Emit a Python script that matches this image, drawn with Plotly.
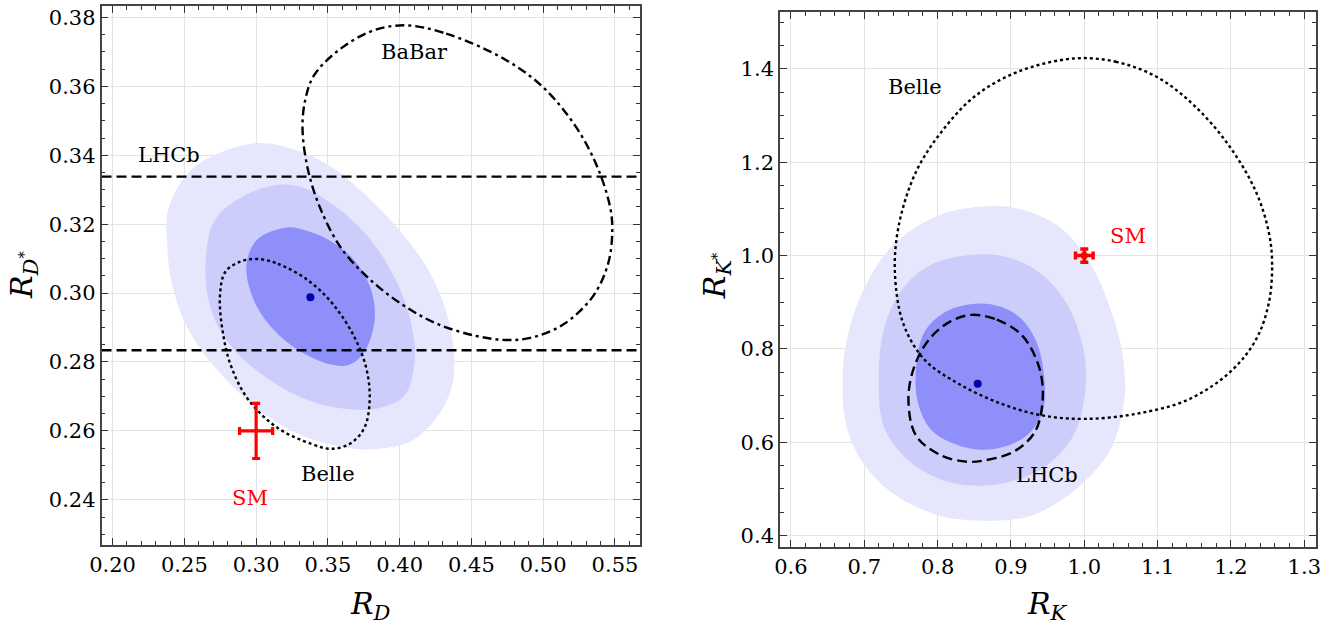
import plotly.graph_objects as go

# ---------------- Left panel: R_D vs R_D* ----------------
rd_outer_x = [0.2978, 0.2567, 0.2391, 0.2382, 0.2420, 0.2537, 0.2742, 0.3006, 0.3328, 0.3650, 0.3856,
              0.4090, 0.4266, 0.4368, 0.4377, 0.4325, 0.4207, 0.4031, 0.3797, 0.3533, 0.3270, 0.2978]
rd_outer_y = [0.3434, 0.3364, 0.3248, 0.3131, 0.3015, 0.2887, 0.2771, 0.2666, 0.2585, 0.2550, 0.2548,
              0.2573, 0.2643, 0.2736, 0.2829, 0.2945, 0.3062, 0.3166, 0.3271, 0.3364, 0.3416, 0.3434]

rd_mid_x = [0.3152, 0.2918, 0.2713, 0.2654, 0.2654, 0.2713, 0.2860, 0.3094, 0.3358, 0.3621, 0.3856,
            0.4031, 0.4105, 0.4075, 0.3973, 0.3797, 0.3563, 0.3328, 0.3152]
rd_mid_y = [0.3314, 0.3283, 0.3213, 0.3120, 0.3015, 0.2922, 0.2829, 0.2748, 0.2690, 0.2664, 0.2666,
            0.2701, 0.2806, 0.2922, 0.3038, 0.3155, 0.3248, 0.3306, 0.3314]

rd_in_x = [0.3211, 0.3006, 0.2933, 0.2962, 0.3064, 0.3269, 0.3504, 0.3650, 0.3753, 0.3826, 0.3797,
           0.3680, 0.3504, 0.3328, 0.3211]
rd_in_y = [0.3190, 0.3155, 0.3085, 0.3003, 0.2922, 0.2841, 0.2794, 0.2792, 0.2829, 0.2922, 0.3015,
           0.3097, 0.3155, 0.3184, 0.3190]

rd_best = (0.3378, 0.2988)

babar_x = [0.4031, 0.4324, 0.4734, 0.5000, 0.5232, 0.5379, 0.5467, 0.5481, 0.5452, 0.5349, 0.5144,
           0.4910, 0.4734, 0.4529, 0.4266, 0.4031, 0.3797, 0.3592, 0.3445, 0.3358, 0.3323, 0.3343,
           0.3402, 0.3563, 0.3797, 0.4031]
babar_y = [0.3777, 0.3753, 0.3678, 0.3597, 0.3480, 0.3364, 0.3248, 0.3178, 0.3085, 0.2992, 0.2910,
           0.2870, 0.2864, 0.2876, 0.2910, 0.2963, 0.3038, 0.3131, 0.3248, 0.3364, 0.3480, 0.3562,
           0.3631, 0.3701, 0.3759, 0.3777]

belle_d_x = [0.3006, 0.3152, 0.3358, 0.3533, 0.3680, 0.3767, 0.3791, 0.3753, 0.3650, 0.3519, 0.3387,
             0.3152, 0.2947, 0.2830, 0.2772, 0.2748, 0.2786, 0.2889, 0.3006]
belle_d_y = [0.3099, 0.3085, 0.3038, 0.2969, 0.2876, 0.2783, 0.2690, 0.2608, 0.2562, 0.2548, 0.2562,
             0.2608, 0.2690, 0.2783, 0.2876, 0.2992, 0.3062, 0.3091, 0.3099]

lhcb_d_band = [0.2834, 0.3338]

sm_d = (0.300, 0.260)
sm_d_err = (0.0115, 0.008)

# ---------------- Right panel: R_K vs R_K* ----------------
rk_outer_x = [0.8517, 0.7938, 0.7359, 0.6953, 0.6750, 0.6704, 0.6750, 0.6953, 0.7359, 0.7938, 0.8517,
              0.9271, 0.9908, 1.0371, 1.0545, 1.0556, 1.0516, 1.0371, 1.0081, 0.9676, 0.9097, 0.8517]
rk_outer_y = [1.1044, 1.0812, 1.0170, 0.9141, 0.8113, 0.7256, 0.6399, 0.5628, 0.4943, 0.4471, 0.4326,
              0.4428, 0.5028, 0.5885, 0.6913, 0.7256, 0.7942, 0.8799, 0.9829, 1.0598, 1.1009, 1.1044]

rk_mid_x = [0.8517, 0.7938, 0.7532, 0.7272, 0.7196, 0.7272, 0.7591, 0.8054, 0.8517, 0.8981, 0.9444,
            0.9850, 1.0012, 0.9994, 0.9791, 0.9444, 0.8981, 0.8517]
rk_mid_y = [1.0024, 0.9827, 0.9313, 0.8456, 0.7256, 0.6314, 0.5628, 0.5200, 0.5071, 0.5157, 0.5457,
            0.6142, 0.7085, 0.7942, 0.8884, 0.9570, 0.9955, 1.0024]

rk_in_x = [0.8517, 0.8111, 0.7822, 0.7706, 0.7735, 0.7938, 0.8401, 0.8807, 0.9212, 0.9432, 0.9456,
           0.9357, 0.9154, 0.8865, 0.8517]
rk_in_y = [0.8970, 0.8799, 0.8370, 0.7599, 0.6828, 0.6228, 0.5885, 0.5868, 0.6142, 0.6656, 0.7342,
           0.8113, 0.8627, 0.8902, 0.8970]

rk_best = (0.8546, 0.7256)

lhcb_k_x = [0.8459, 0.8807, 0.9154, 0.9386, 0.9432, 0.9328, 0.9038, 0.8633, 0.8401, 0.8054, 0.7706,
            0.7602, 0.7677, 0.7880, 0.8169, 0.8459]
lhcb_k_y = [0.8730, 0.8627, 0.8285, 0.7599, 0.6913, 0.6228, 0.5799, 0.5611, 0.5585, 0.5714, 0.6142,
            0.6913, 0.7599, 0.8199, 0.8585, 0.8730]

belle_k_x = [0.9850, 1.0429, 1.1008, 1.1529, 1.1993, 1.2340, 1.2514, 1.2561, 1.2514, 1.2340, 1.1993,
             1.1414, 1.0719, 1.0023, 0.9444, 0.8865, 0.8285, 0.7822, 0.7532, 0.7417, 0.7475, 0.7706,
             0.8054, 0.8517, 0.9097, 0.9850]
belle_k_y = [1.4223, 1.4154, 1.3811, 1.3169, 1.2312, 1.1369, 1.0512, 0.9827, 0.8970, 0.8199, 0.7513,
             0.6913, 0.6614, 0.6502, 0.6571, 0.6828, 0.7256, 0.7770, 0.8542, 0.9656, 1.0684, 1.1798,
             1.2655, 1.3426, 1.3940, 1.4223]

sm_k = (1.000, 1.000)
sm_k_err = (0.012, 0.014)

# ---------------- styling ----------------
C_OUT = "#E6E6FC"
C_MID = "#CDCDFB"
C_IN = "#8F8FFA"
C_BEST = "#0000A8"
FONT = "DejaVu Serif"

fig = go.Figure()


def region(x, y, color, xa, ya):
    fig.add_trace(go.Scatter(x=x, y=y, mode="lines", fill="toself", fillcolor=color,
                             line=dict(color=color, width=0, shape="spline", smoothing=1.0),
                             xaxis=xa, yaxis=ya, hoverinfo="skip", showlegend=False))


def curve(x, y, dash, xa, ya):
    fig.add_trace(go.Scatter(x=x, y=y, mode="lines",
                             line=dict(color="black", width=2.4, dash=dash, shape="spline", smoothing=1.0),
                             xaxis=xa, yaxis=ya, hoverinfo="skip", showlegend=False))


# left
region(rd_outer_x, rd_outer_y, C_OUT, "x", "y")
region(rd_mid_x, rd_mid_y, C_MID, "x", "y")
region(rd_in_x, rd_in_y, C_IN, "x", "y")
curve(babar_x, babar_y, "9px,4px,3px,4px", "x", "y")
curve(belle_d_x, belle_d_y, "3px,3px", "x", "y")
for yv in lhcb_d_band:
    fig.add_trace(go.Scatter(x=[0.1923, 0.5674], y=[yv, yv], mode="lines",
                             line=dict(color="black", width=2.4, dash="10px,5px"),
                             xaxis="x", yaxis="y", hoverinfo="skip", showlegend=False))
fig.add_trace(go.Scatter(x=[rd_best[0]], y=[rd_best[1]], mode="markers",
                         marker=dict(color=C_BEST, size=8), xaxis="x", yaxis="y", showlegend=False))
fig.add_trace(go.Scatter(x=[sm_d[0]], y=[sm_d[1]], mode="markers",
                         marker=dict(color="red", size=4),
                         error_x=dict(type="constant", value=sm_d_err[0], color="red", thickness=3.2, width=4),
                         error_y=dict(type="constant", value=sm_d_err[1], color="red", thickness=3.2, width=4),
                         xaxis="x", yaxis="y", showlegend=False))

# right
region(rk_outer_x, rk_outer_y, C_OUT, "x2", "y2")
region(rk_mid_x, rk_mid_y, C_MID, "x2", "y2")
region(rk_in_x, rk_in_y, C_IN, "x2", "y2")
curve(lhcb_k_x, lhcb_k_y, "10px,5px", "x2", "y2")
curve(belle_k_x, belle_k_y, "3px,3px", "x2", "y2")
fig.add_trace(go.Scatter(x=[rk_best[0]], y=[rk_best[1]], mode="markers",
                         marker=dict(color=C_BEST, size=8), xaxis="x2", yaxis="y2", showlegend=False))
fig.add_trace(go.Scatter(x=[sm_k[0]], y=[sm_k[1]], mode="markers",
                         marker=dict(color="red", size=6, symbol="square"),
                         error_x=dict(type="constant", value=sm_k_err[0], color="red", thickness=3.5, width=4),
                         error_y=dict(type="constant", value=sm_k_err[1], color="red", thickness=3.5, width=4),
                         xaxis="x2", yaxis="y2", showlegend=False))

tickfont = dict(family=FONT, size=21, color="black")
common = dict(showgrid=True, gridcolor="#E3E3E3", gridwidth=1, zeroline=False,
              showline=True, linecolor="#444", linewidth=1.5, mirror="allticks",
              ticks="inside", ticklen=7, tickwidth=1.3, tickcolor="#333",
              tickfont=tickfont, automargin=False)

fig.update_layout(
    width=1336, height=627, margin=dict(l=0, r=0, t=0, b=0),
    paper_bgcolor="white", plot_bgcolor="white", showlegend=False,
    xaxis=dict(domain=[0.0760, 0.4790], range=[0.1923, 0.5674], dtick=0.05, tick0=0.2,
               tickformat=".2f", anchor="y",
               minor=dict(ticks="inside", ticklen=4, dtick=0.01, tick0=0.2, tickcolor="#333", showgrid=False),
               **common),
    yaxis=dict(domain=[0.1308, 0.9904], range=[0.2269, 0.3833], dtick=0.02, tick0=0.24,
               tickformat=".2f", anchor="x",
               minor=dict(ticks="inside", ticklen=4, dtick=0.005, tick0=0.24, tickcolor="#333", showgrid=False),
               **common),
    xaxis2=dict(domain=[0.5838, 0.9848], range=[0.585, 1.3155], dtick=0.1, tick0=0.6,
                tickformat=".1f", anchor="y2",
                minor=dict(ticks="inside", ticklen=4, dtick=0.02, tick0=0.6, tickcolor="#333", showgrid=False),
                **common),
    yaxis2=dict(domain=[0.1281, 0.9809], range=[0.3764, 1.522], dtick=0.2, tick0=0.4,
                tickformat=".1f", anchor="x2",
                minor=dict(ticks="inside", ticklen=4, dtick=0.05, tick0=0.4, tickcolor="#333", showgrid=False),
                **common),
)

lab = dict(family=FONT, size=21, color="black")
red = dict(family=FONT, size=21, color="red")
anns = [
    dict(x=0.4105, y=0.3701, xref="x", yref="y", text="BaBar", font=lab),
    dict(x=0.239, y=0.3402, xref="x", yref="y", text="LHCb", font=lab),
    dict(x=0.350, y=0.2475, xref="x", yref="y", text="Belle", font=lab),
    dict(x=0.2957, y=0.2405, xref="x", yref="y", text="SM", font=red),
    dict(x=0.7695, y=1.3614, xref="x2", yref="y2", text="Belle", font=lab),
    dict(x=1.059, y=1.041, xref="x2", yref="y2", text="SM", font=red),
    dict(x=0.949, y=0.530, xref="x2", yref="y2", text="LHCb", font=lab),
    # axis titles
    dict(x=370.6 / 1336, y=1 - 605 / 627, xref="paper", yref="paper",
         text="<i>R</i><sub><i>D</i></sub>", font=dict(family=FONT, size=30, color="black")),
    dict(x=23 / 1336, y=1 - 275 / 627, xref="paper", yref="paper", textangle=-90,
         text="<i>R</i><sub><i>D</i><sup>*</sup></sub>", font=dict(family=FONT, size=30, color="black")),
    dict(x=1047.9 / 1336, y=1 - 605 / 627, xref="paper", yref="paper",
         text="<i>R</i><sub><i>K</i></sub>", font=dict(family=FONT, size=30, color="black")),
    dict(x=716.4 / 1336, y=1 - 275.8 / 627, xref="paper", yref="paper", textangle=-90,
         text="<i>R</i><sub><i>K</i><sup>*</sup></sub>", font=dict(family=FONT, size=30, color="black")),
]
for a in anns:
    a.setdefault("showarrow", False)
    a.setdefault("xanchor", "center")
    a.setdefault("yanchor", "middle")
fig.update_layout(annotations=anns)

fig.write_html("out.html", config={"displayModeBar": False},
               post_script="document.body.style.margin='0';document.body.style.overflow='hidden';")
